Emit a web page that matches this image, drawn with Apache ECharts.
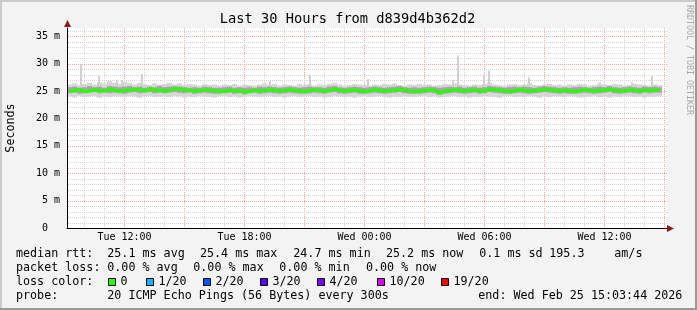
<!DOCTYPE html>
<html><head><meta charset="utf-8">
<script src="https://cdn.jsdelivr.net/npm/echarts@6/dist/echarts.min.js"></script>
<style>html,body{margin:0;padding:0;background:#f3f3f3}#c{width:697px;height:310px}</style>
</head><body><div id="c"></div>
<script>
// ---- data (hours since Tue 00:00, values in ms) ----
const startHour = 9.125, endHour = 39.125, stepHours = 0.25;
const median = [25.0,25.2,25.1,24.9,25.1,25.2,25.0,25.1,25.3,25.1,
 25.0,25.1,25.2,25.3,25.2,25.1,25.3,25.2,25.1,25.0,
 25.2,25.4,25.3,25.2,25.1,25.0,25.1,25.2,25.1,25.0,
 24.9,25.0,25.1,25.0,25.0,24.8,25.0,25.1,25.0,25.1,
 25.2,25.1,25.0,25.1,25.2,25.1,25.0,24.9,25.1,25.2,
 25.1,25.0,25.2,25.3,25.1,25.0,25.1,25.2,25.0,24.9,
 25.1,25.2,25.1,25.0,25.1,25.2,25.3,25.1,25.0,24.9,
 25.0,25.1,25.2,25.1,24.7,25.0,25.1,25.2,25.1,25.0,
 25.1,25.2,25.0,25.1,25.3,25.2,25.1,25.0,24.9,25.1,
 25.2,25.1,25.0,25.1,25.2,25.3,25.2,25.1,25.0,25.1,
 25.0,24.9,25.1,25.2,25.1,25.0,25.1,25.2,25.3,25.1,
 25.0,25.1,25.2,25.1,25.0,25.2,25.1,25.2,25.2];
const smokeHi = [26.2,26.4,26.1,26.3,26.5,26.2,26.6,26.4,26.8,26.5,
 26.3,26.7,26.4,26.2,26.5,26.3,26.1,26.4,26.2,26.3,
 26.5,26.2,26.4,26.1,26.3,26.2,26.0,26.3,26.1,26.2,
 26.0,26.2,26.1,26.3,26.0,26.2,26.1,26.0,26.2,26.4,
 26.1,26.3,26.0,26.2,26.1,26.0,26.3,26.1,26.2,26.0,
 26.2,26.1,26.3,26.5,26.2,26.0,26.1,26.3,26.2,26.1,
 26.0,26.2,26.1,26.3,26.2,26.4,26.1,26.0,26.2,26.1,
 26.3,26.1,26.2,26.0,26.1,26.3,26.2,26.4,26.2,26.1,
 26.0,26.2,26.1,26.3,26.5,26.2,26.1,26.0,26.2,26.3,
 26.1,26.2,26.4,26.1,26.0,26.2,26.3,26.1,26.2,26.0,
 26.2,26.1,26.3,26.2,26.0,26.1,26.3,26.2,26.1,26.3,
 26.2,26.0,26.1,26.3,26.2,26.1,26.0,26.2,26.1];
const smokeLo = [24.0,23.8,24.1,23.9,24.0,24.1,23.8,24.0,23.9,24.1,
 24.0,23.9,24.1,24.0,23.8,24.0,24.1,23.9,24.0,24.1,
 23.9,24.1,24.0,23.8,24.0,23.9,24.1,24.0,23.9,23.8,
 24.0,24.1,23.9,24.0,23.8,23.9,24.1,24.0,23.9,24.0,
 24.1,23.9,24.0,23.8,24.0,24.1,23.9,24.0,24.1,23.9,
 24.0,23.8,23.9,24.1,24.0,23.9,24.0,23.8,24.0,24.1,
 23.9,24.0,24.1,23.9,23.8,24.0,23.9,24.1,24.0,23.9,
 24.0,24.1,23.9,24.0,23.8,23.9,24.0,24.1,23.9,24.0,
 23.8,24.0,23.9,24.1,24.0,23.9,23.8,24.0,24.1,23.9,
 24.0,23.9,24.1,24.0,23.8,24.0,23.9,24.1,24.0,23.9,
 24.1,24.0,23.8,23.9,24.0,24.1,23.9,24.0,23.8,24.0,
 23.9,24.1,24.0,23.9,24.0,23.8,24.0,23.9,24.1];
const denseHi = [25.7,25.8,25.6,25.7,25.9,25.7,25.8,25.6,25.9,25.8,
 25.7,25.8,25.9,25.7,25.8,25.6,25.8,25.7,25.9,25.7,
 25.8,25.9,25.8,25.7,25.6,25.7,25.6,25.8,25.7,25.6,
 25.6,25.7,25.8,25.6,25.7,25.6,25.7,25.6,25.8,25.7,
 25.8,25.7,25.6,25.7,25.8,25.7,25.6,25.7,25.8,25.7,
 25.7,25.6,25.8,25.9,25.7,25.6,25.7,25.8,25.7,25.6,
 25.7,25.8,25.7,25.6,25.7,25.8,25.9,25.7,25.6,25.7,
 25.6,25.7,25.8,25.7,25.6,25.7,25.8,25.7,25.8,25.6,
 25.7,25.8,25.6,25.7,25.9,25.8,25.7,25.6,25.7,25.8,
 25.7,25.8,25.7,25.6,25.8,25.9,25.8,25.7,25.6,25.7,
 25.6,25.7,25.8,25.7,25.6,25.7,25.8,25.7,25.9,25.7,
 25.6,25.7,25.8,25.7,25.6,25.8,25.7,25.8,25.7];
const denseLo = [24.6,24.7,24.5,24.6,24.7,24.8,24.6,24.7,24.6,24.7,
 24.6,24.5,24.7,24.8,24.6,24.7,24.8,24.6,24.7,24.6,
 24.7,24.8,24.7,24.6,24.7,24.5,24.6,24.7,24.6,24.5,
 24.5,24.6,24.7,24.5,24.6,24.4,24.6,24.7,24.5,24.6,
 24.7,24.6,24.5,24.6,24.7,24.6,24.5,24.5,24.6,24.7,
 24.6,24.5,24.7,24.8,24.6,24.5,24.6,24.7,24.5,24.5,
 24.6,24.7,24.6,24.5,24.6,24.7,24.8,24.6,24.5,24.5,
 24.5,24.6,24.7,24.6,24.3,24.5,24.6,24.7,24.6,24.5,
 24.6,24.7,24.5,24.6,24.8,24.7,24.6,24.5,24.5,24.6,
 24.7,24.6,24.5,24.6,24.7,24.8,24.7,24.6,24.5,24.6,
 24.5,24.5,24.6,24.7,24.6,24.5,24.6,24.7,24.8,24.6,
 24.5,24.6,24.7,24.6,24.5,24.7,24.6,24.7,24.7];
const spikeHours = [9.765,10.68,11.58,11.83,12.83,19.23,21.23,24.13,28.38,28.63,29.93,30.165,32.155,35.73,37.33,38.33];
const spikeValues = [29.9,27.8,26.9,27.0,28.1,26.8,27.9,27.2,27.0,31.5,27.9,28.7,27.5,26.6,26.6,27.7];
const xLabelHours = [12,18,24,30,36];
const xLabels = ['Tue 12:00','Tue 18:00','Wed 00:00','Wed 06:00','Wed 12:00'];
const title = 'Last 30 Hours from d839d4b362d2';
const yTitle = 'Seconds';
const row1 = [['median rtt:',16],['25.1 ms avg',107.3],['25.4 ms max',200],['24.7 ms min',293.3],['25.2 ms now',386],['0.1 ms sd',479.3],['195.3',549.3],['am/s',614.3]];
const row2 = [['packet loss:',16],['0.00 % avg',107.3],['0.00 % max',193.3],['0.00 % min',279.3],['0.00 % now',366]];
const row4 = [['probe:',16],['20 ICMP Echo Pings (56 Bytes) every 300s',107.3],['end: Wed Feb 25 15:03:44 2026',478.3]];
const lossLabels = ['0','1/20','2/20','3/20','4/20','10/20','19/20'];
const lossColors = ['#26ff00','#00b8ff','#0059ff','#5e00ff','#7e00ff','#dd00ff','#ff0000'];
const lossBoxX = [108,146,203,260,317,377,441];

// ---- build ----
const FONT = '"DejaVu Sans Mono", monospace';
const GRAY = '#d4d4d4', RED = '#f3a4a4';
const times = median.map((_, i) => startHour + i * stepHours);
const bandSeries = (lo, hi, color, z) => ({
  type: 'custom', z: z, silent: true, animation: false,
  encode: { x: 0, y: [1, 2] },
  data: times.map((t, i) => [t, lo[i], hi[i]]),
  renderItem: (params, api) => {
    const t = api.value(0);
    const p1 = api.coord([t, api.value(2)]);
    const p2 = api.coord([t + stepHours, api.value(1)]);
    return { type: 'rect', shape: { x: p1[0], y: p1[1], width: p2[0] - p1[0], height: p2[1] - p1[1] }, style: { fill: color } };
  }
});
const spikeSeries = {
  type: 'custom', z: 3, silent: true, animation: false,
  encode: { x: 0, y: 1 },
  data: spikeHours.map((h, i) => [h, spikeValues[i]]),
  renderItem: (params, api) => {
    const p1 = api.coord([api.value(0), api.value(1)]);
    const p2 = api.coord([api.value(0), 25]);
    return { type: 'rect', shape: { x: Math.round(p1[0]), y: p1[1], width: 2, height: p2[1] - p1[1] }, style: { fill: '#d0d0d0' } };
  }
};
// grid lines: [kind, value] ; kind 0 = vertical (hour), 1 = horizontal (ms)
const gridData = [];
for (let h = Math.ceil(startHour); h <= Math.floor(endHour); h++) gridData.push([0, h]);
for (let v = 1; v <= 36; v++) gridData.push([1, v]);
const gridSeries = {
  type: 'custom', z: 1, silent: true, animation: false, clip: false,
  data: gridData,
  renderItem: (params, api) => {
    const kind = api.value(0), v = api.value(1);
    let shape, major;
    if (kind === 0) {
      const a = api.coord([v, 0]), b = api.coord([v, 36.5]);
      const x = Math.floor(a[0]) + 0.5;
      shape = { x1: x, y1: a[1] - 1, x2: x, y2: b[1] };
      major = v % 3 === 0;
    } else {
      const a = api.coord([startHour, v]), b = api.coord([endHour, v]);
      const y = Math.round(a[1]) + 0.5;
      shape = { x1: a[0] + 1, y1: y, x2: b[0] + 1, y2: y };
      major = v % 5 === 0;
    }
    return { type: 'line', shape: shape, style: { stroke: major ? RED : GRAY, lineWidth: 1, lineDash: [1, 1] } };
  }
};

const graphics = [];
graphics.push({ type: 'rect', shape: { x: 0, y: 0, width: 697, height: 2 }, style: { fill: '#cbcbcb' }, silent: true });
graphics.push({ type: 'rect', shape: { x: 0, y: 0, width: 2, height: 310 }, style: { fill: '#cbcbcb' }, silent: true });
graphics.push({ type: 'rect', shape: { x: 0, y: 308, width: 697, height: 2 }, style: { fill: '#999999' }, silent: true });
graphics.push({ type: 'rect', shape: { x: 695, y: 0, width: 2, height: 310 }, style: { fill: '#999999' }, silent: true });
graphics.push({ type: 'polygon', shape: { points: [[64, 27], [67.5, 20], [71, 27]] }, style: { fill: '#8b1a1a' }, silent: true, z: 10 });
graphics.push({ type: 'polygon', shape: { points: [[667, 225], [674, 228.5], [667, 232]] }, style: { fill: '#8b1a1a' }, silent: true, z: 10 });
const txt = (s, x, y, size, extra) => Object.assign({ type: 'text', x: x, y: y, silent: true, z: 10,
  style: { text: s, font: size + 'px ' + FONT, fill: '#000', align: 'left', verticalAlign: 'middle' } }, extra || {});
graphics.push(txt(title, 347.5, 19.5, 13.7, { style: { text: title, font: '13.7px ' + FONT, fill: '#000', align: 'center', verticalAlign: 'middle' } }));
graphics.push(txt(yTitle, 11, 128, 11.7, { rotation: Math.PI / 2, style: { text: yTitle, font: '11.7px ' + FONT, fill: '#000', align: 'center', verticalAlign: 'middle' } }));
graphics.push(txt('RRDTOOL / TOBI OETIKER', 689, 60, 8.3, { rotation: -Math.PI / 2, style: { text: 'RRDTOOL / TOBI OETIKER', font: '8.3px ' + FONT, fill: '#a8a8a8', align: 'center', verticalAlign: 'middle' } }));
row1.forEach(r => graphics.push(txt(r[0], r[1], 254.3, 11.7)));
row2.forEach(r => graphics.push(txt(r[0], r[1], 268.3, 11.7)));
graphics.push(txt('loss color:', 16, 282.3, 11.7));
lossLabels.forEach((l, i) => {
  graphics.push({ type: 'rect', shape: { x: lossBoxX[i] + 0.5, y: 278.5, width: 7, height: 7 }, style: { fill: lossColors[i], stroke: '#000', lineWidth: 1 }, silent: true, z: 10 });
  graphics.push(txt(l, lossBoxX[i] + 12.5, 282.3, 11.7));
});
row4.forEach(r => graphics.push(txt(r[0], r[1], 295.7, 11.7)));

const chart = echarts.init(document.getElementById('c'), null, { renderer: 'canvas' });
chart.setOption({
  animation: false,
  backgroundColor: '#f3f3f3',
  grid: { left: 67, top: 28, width: 600, height: 200, show: true, backgroundColor: '#ffffff', borderWidth: 0 },
  xAxis: {
    type: 'value', min: startHour, max: endHour, z: 5,
    axisLine: { show: true, lineStyle: { color: '#000', width: 1 } },
    axisTick: { show: false },
    splitLine: { show: false },
    axisLabel: { customValues: xLabelHours, margin: 4, fontFamily: FONT, fontSize: 10, color: '#000',
      formatter: v => { const k = xLabelHours.indexOf(Math.round(v)); return k >= 0 ? xLabels[k] : ''; } }
  },
  yAxis: {
    type: 'value', min: 0, max: 36.5, interval: 5, z: 5,
    axisLine: { show: true, lineStyle: { color: '#000', width: 1 } },
    axisTick: { show: false },
    splitLine: { show: false },
    axisLabel: { margin: 7, fontFamily: FONT, fontSize: 10, color: '#000',
      formatter: v => (v % 5 !== 0 ? '' : (v === 0 ? '0  ' : v + ' m')) }
  },
  graphic: graphics,
  series: [
    gridSeries,
    bandSeries(smokeLo, smokeHi, '#d6d6d6', 2),
    spikeSeries,
    bandSeries(denseLo, denseHi, '#a6a6a6', 4),
    { type: 'line', z: 6, silent: true, showSymbol: false, step: 'middle',
      data: times.map((t, i) => [t + stepHours / 2, median[i]]),
      lineStyle: { color: '#26ff00', width: 3 } }
  ]
});
</script>
</body></html>
